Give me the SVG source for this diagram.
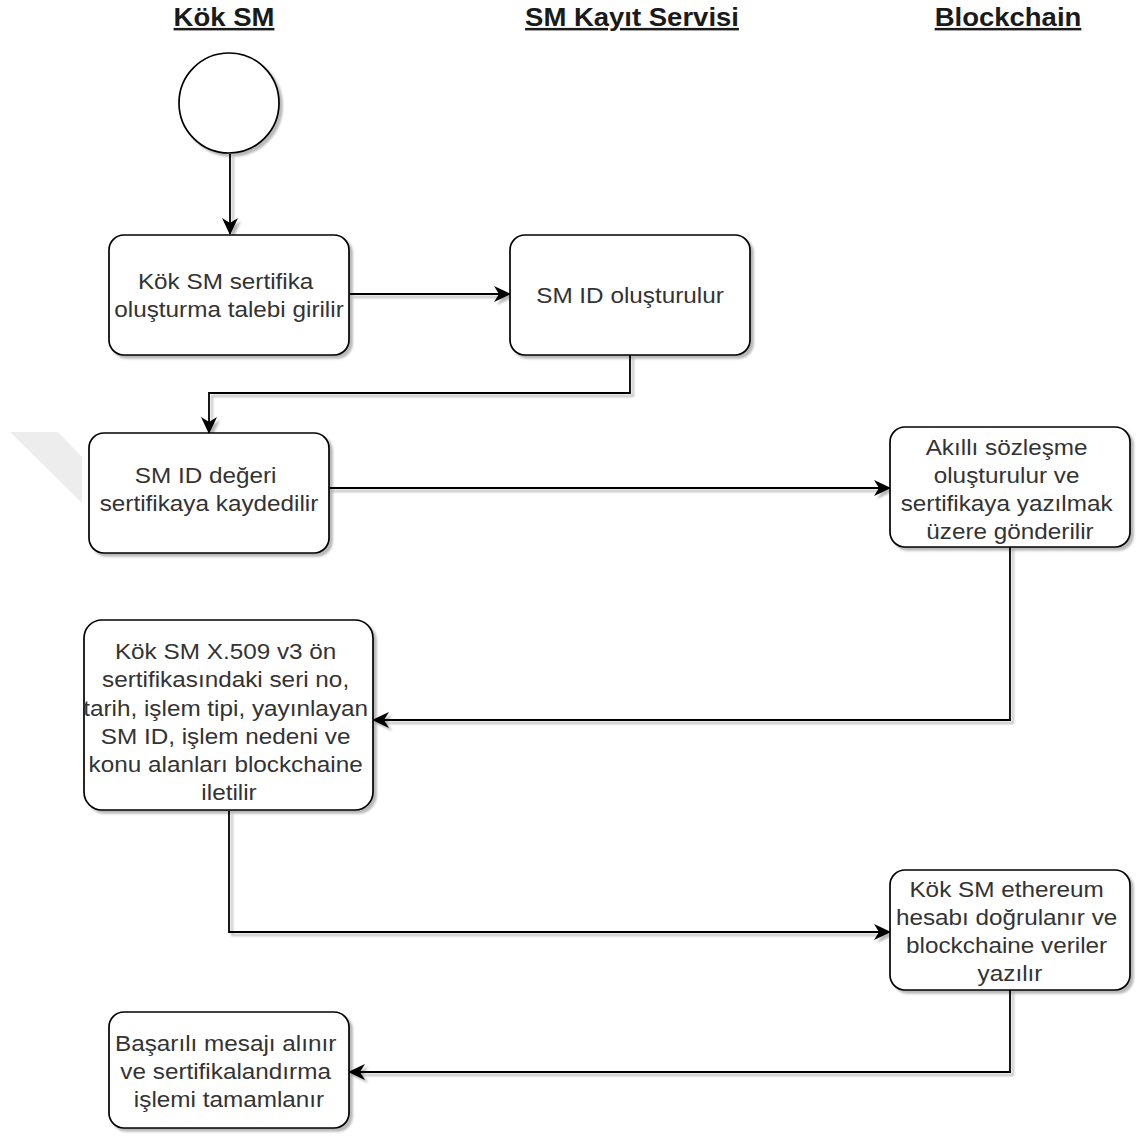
<svg xmlns="http://www.w3.org/2000/svg" width="1138" height="1139" viewBox="0 0 1138 1139">
  <defs>
    <!-- user-space region so straight (zero-height/width) lines still render -->
    <filter id="shadow" filterUnits="userSpaceOnUse" x="0" y="0" width="1138" height="1139">
      <feDropShadow dx="3" dy="3" stdDeviation="1" flood-color="#000" flood-opacity="0.28"/>
    </filter>
    <marker id="arrow" markerUnits="userSpaceOnUse" markerWidth="18" markerHeight="16" viewBox="0 0 18 16" refX="16" refY="8" orient="auto">
      <path d="M0,0 L17,8 L0,16 L5,8 Z" fill="#000"/>
    </marker>
    <style>
      .lane { font-family: "Liberation Sans", Arial, sans-serif; font-size: 25px; font-weight: bold; fill: #1a1a1a; text-decoration: underline; text-anchor: middle; }
      .box { fill: #fff; stroke: #000; stroke-width: 1.7; filter: url(#shadow); }
      .label { font-family: "Liberation Sans", Arial, sans-serif; font-size: 22.5px; fill: #333; text-anchor: middle; }
      .edge { fill: none; stroke: #000; stroke-width: 1.8; filter: url(#shadow); }
    </style>
  </defs>

  <rect width="1138" height="1139" fill="#fff"/>

  <!-- faint background mark -->
  <polygon points="10,432 58,432 82,457 82,503" fill="#ededed"/>

  <!-- lane headings -->
  <g id="lanes">
    <text class="lane" transform="translate(224 0) scale(1.1 1)" x="0" y="26">Kök SM</text>
    <text class="lane" transform="translate(632 0) scale(1.1 1)" x="0" y="26">SM Kayıt Servisi</text>
    <text class="lane" transform="translate(1008 0) scale(1.1 1)" x="0" y="26">Blockchain</text>
  </g>

  <!-- connectors -->
  <g id="connectors">
    <path class="edge" d="M230,154 L230,234" marker-end="url(#arrow)"/>
    <path class="edge" d="M350,294 L510,294" marker-end="url(#arrow)"/>
    <path class="edge" d="M630,355 L630,393 L209,393 L209,433" marker-end="url(#arrow)"/>
    <path class="edge" d="M329,488 L890,488" marker-end="url(#arrow)"/>
    <path class="edge" d="M1010,547 L1010,720 L373,720" marker-end="url(#arrow)"/>
    <path class="edge" d="M229,811 L229,932 L890,932" marker-end="url(#arrow)"/>
    <path class="edge" d="M1010,990 L1010,1072 L349,1072" marker-end="url(#arrow)"/>
  </g>

  <!-- start -->
  <g id="start">
    <circle class="box" cx="229" cy="103" r="50"/>
  </g>

  <g id="n1">
    <rect class="box" x="109" y="235" width="240" height="120" rx="15"/>
    <text class="label" transform="translate(229 0) scale(1.08 1)">
      <tspan x="0" y="289">Kök SM sertifika</tspan>
      <tspan x="0" y="317">oluşturma talebi girilir</tspan>
    </text>
  </g>

  <g id="n2">
    <rect class="box" x="510" y="235" width="240" height="120" rx="15"/>
    <text class="label" transform="translate(630 0) scale(1.08 1)">
      <tspan x="0" y="303">SM ID oluşturulur</tspan>
    </text>
  </g>

  <g id="n3">
    <rect class="box" x="89" y="433" width="240" height="120" rx="15"/>
    <text class="label" transform="translate(209 0) scale(1.08 1)">
      <tspan x="0" y="483">SM ID değeri</tspan>
      <tspan x="0" y="511">sertifikaya kaydedilir</tspan>
    </text>
  </g>

  <g id="n4">
    <rect class="box" x="890" y="427" width="240" height="120" rx="15"/>
    <text class="label" transform="translate(1010 0) scale(1.08 1)">
      <tspan x="0" y="455">Akıllı sözleşme</tspan>
      <tspan x="0" y="483">oluşturulur ve</tspan>
      <tspan x="0" y="511">sertifikaya yazılmak</tspan>
      <tspan x="0" y="539">üzere gönderilir</tspan>
    </text>
  </g>

  <g id="n5">
    <rect class="box" x="84" y="620" width="289" height="190" rx="18"/>
    <text class="label" transform="translate(229 0) scale(1.08 1)">
      <tspan x="0" y="659">Kök SM X.509 v3 ön</tspan>
      <tspan x="0" y="687">sertifikasındaki seri no,</tspan>
      <tspan x="0" y="716">tarih, işlem tipi, yayınlayan</tspan>
      <tspan x="0" y="744">SM ID, işlem nedeni ve</tspan>
      <tspan x="0" y="772">konu alanları blockchaine</tspan>
      <tspan x="0" y="800">iletilir</tspan>
    </text>
  </g>

  <g id="n6">
    <rect class="box" x="890" y="870" width="240" height="120" rx="15"/>
    <text class="label" transform="translate(1010 0) scale(1.08 1)">
      <tspan x="0" y="897">Kök SM ethereum</tspan>
      <tspan x="0" y="925">hesabı doğrulanır ve</tspan>
      <tspan x="0" y="953">blockchaine veriler</tspan>
      <tspan x="0" y="981">yazılır</tspan>
    </text>
  </g>

  <g id="n7">
    <rect class="box" x="109" y="1012" width="240" height="116" rx="15"/>
    <text class="label" transform="translate(229 0) scale(1.08 1)">
      <tspan x="0" y="1051">Başarılı mesajı alınır</tspan>
      <tspan x="0" y="1079">ve sertifikalandırma</tspan>
      <tspan x="0" y="1107">işlemi tamamlanır</tspan>
    </text>
  </g>
</svg>
